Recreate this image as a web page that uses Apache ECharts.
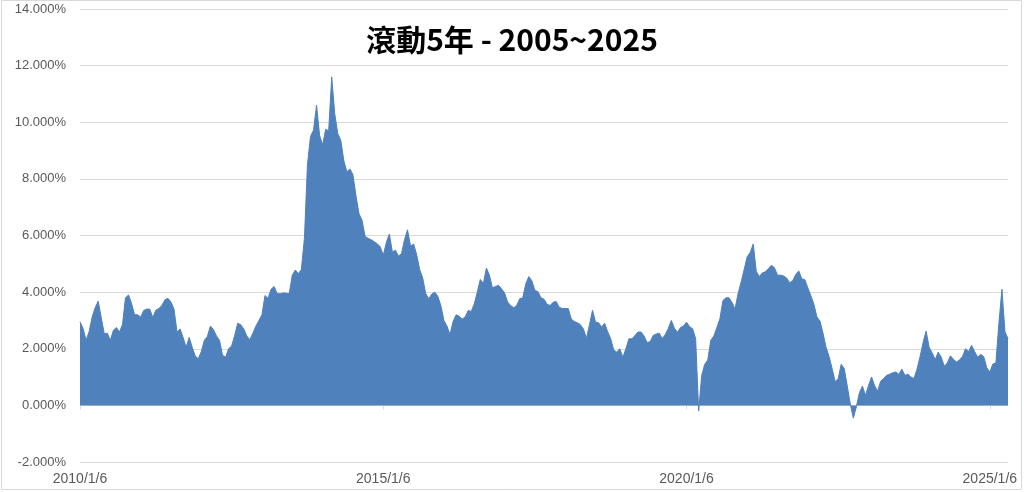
<!DOCTYPE html>
<html>
<head>
<meta charset="utf-8">
<script src="https://cdn.jsdelivr.net/npm/echarts@6/dist/echarts.min.js"></script>
<style>
html,body{margin:0;padding:0;background:#fff;}
#chart{width:1024px;height:492px;}
</style>
</head>
<body>
<div id="chart"></div>
<script>
// Chart title
const titleText = '滾動5年 - 2005~2025';
// x tick labels (one every 100 samples, samples are ~1/20 year apart)
const tickLabels = ['2010/1/6', '2015/1/6', '2020/1/6', '2025/1/6'];
const tickEvery = 100;
// Y axis range (%)
const yMin = -2, yMax = 14, yStep = 2;
// Rolling 5-year return (%), sampled from 2010/1/6 to mid-2025
const rolling5y = [
  2.95, 2.72, 2.3, 2.6, 3.12, 3.45, 3.68, 3.1, 2.53, 2.55,
  2.3, 2.65, 2.75, 2.59, 2.85, 3.8, 3.9, 3.6, 3.2, 3.2,
  3.12, 3.35, 3.4, 3.4, 3.1, 3.36, 3.42, 3.53, 3.73, 3.78,
  3.65, 3.4, 2.59, 2.7, 2.4, 2.05, 2.4, 2.05, 1.74, 1.65,
  1.9, 2.3, 2.43, 2.8, 2.68, 2.45, 2.3, 1.77, 1.7, 2.0,
  2.1, 2.47, 2.9, 2.85, 2.7,
  2.45, 2.32, 2.55, 2.8, 3.0, 3.2, 3.88, 3.78, 4.1, 4.2,
  3.95, 3.94, 3.97, 3.96, 3.95,
  4.6, 4.78, 4.65, 4.8, 5.9, 8.5, 9.5, 9.72, 10.6, 9.54,
  9.2, 9.75, 9.7, 11.6, 10.3, 9.6, 9.36, 8.64, 8.25, 8.35,
  8.15, 7.4, 6.77, 6.54, 5.97, 5.9, 5.85, 5.78, 5.71, 5.6,
  5.3, 5.75, 6.05, 5.42, 5.48, 5.28, 5.35, 5.85, 6.2, 5.62,
  5.7, 5.33, 4.8, 4.5, 3.95, 3.77,
  3.93, 4.0, 3.85, 3.52, 3.0, 2.8, 2.5, 2.95, 3.2, 3.15,
  3.05, 3.12, 3.35, 3.32, 3.58, 4.0, 4.45, 4.3, 4.85, 4.6,
  4.15, 4.2, 4.24, 4.12, 3.97, 3.65, 3.53, 3.45, 3.53, 3.77,
  3.8, 4.3, 4.55, 4.4, 4.06, 4.02, 3.8, 3.75, 3.57, 3.53,
  3.64, 3.67,
  3.47, 3.42, 3.42, 3.42, 3.05, 2.96, 2.92, 2.85, 2.7, 2.37,
  2.85, 3.36, 2.94, 2.92, 2.77, 2.9, 2.6, 2.35, 1.95, 1.88,
  2.0, 1.7, 2.0, 2.35, 2.35, 2.47, 2.59, 2.59, 2.45, 2.22,
  2.25, 2.47, 2.52, 2.55, 2.36, 2.5, 2.72, 3.0, 2.72, 2.58,
  2.75, 2.8, 2.94, 2.78, 2.71, 2.36, -0.2, 1.06, 1.45, 1.6,
  2.3, 2.45,
  2.75, 3.06, 3.7, 3.8, 3.8, 3.63, 3.4, 3.95, 4.35, 4.8,
  5.25, 5.4, 5.7, 4.73, 4.55, 4.68, 4.72, 4.83, 4.95, 4.86,
  4.6, 4.6, 4.57, 4.5, 4.33, 4.4, 4.62, 4.75, 4.47, 4.44,
  4.15, 3.87, 3.57, 3.12, 2.98, 2.55, 2.05, 1.73, 1.3, 0.84,
  0.94, 1.45, 1.3, 0.68,
  0.05, -0.45, -0.05, 0.45, 0.68, 0.35, 0.7, 1.0, 0.7, 0.5,
  0.85, 0.95, 1.06, 1.1, 1.15, 1.18, 1.1, 1.28, 1.06, 1.1,
  1.0, 0.95, 1.28, 1.72, 2.22, 2.62, 2.05, 1.85, 1.62, 1.88,
  1.7, 1.38, 1.5, 1.75, 1.63, 1.53, 1.6, 1.73, 2.0, 1.9,
  2.12, 1.9, 1.7, 1.8, 1.72, 1.33, 1.18, 1.46, 1.5, 2.9,
  4.1, 2.6, 2.35
];

const categories = rolling5y.map((_, i) => String(i));
const labelFor = (v, idx) => (idx % tickEvery === 0 ? (tickLabels[idx / tickEvery] || '') : '');

const chart = echarts.init(document.getElementById('chart'), null, {renderer: 'canvas'});
chart.setOption({
  animation: false,
  backgroundColor: '#ffffff',
  title: {
    text: titleText,
    left: 'center',
    top: 20,
    textStyle: {fontFamily: 'Noto Sans CJK TC', fontWeight: 'bold', fontSize: 30, color: '#000000'}
  },
  graphic: [{
    type: 'rect',
    shape: {x: 1.5, y: 0.5, width: 1020, height: 489},
    style: {fill: 'none', stroke: '#d9d9d9', lineWidth: 1},
    silent: true, z: 100
  }],
  grid: {left: 80, right: 16, top: 9, bottom: 30},
  xAxis: [{
    type: 'category',
    data: categories,
    boundaryGap: false,
    axisLine: {show: true, onZero: true, lineStyle: {color: '#d9d9d9', width: 1}},
    axisTick: {show: true, interval: tickEvery - 1, length: 4, lineStyle: {color: '#d9d9d9'}},
    axisLabel: {show: false},
    splitLine: {show: false}
  }, {
    type: 'category',
    data: categories,
    boundaryGap: false,
    position: 'bottom',
    axisLine: {show: false, onZero: false},
    axisTick: {show: false},
    axisLabel: {
      show: true, interval: tickEvery - 1, margin: 10,
      fontFamily: 'Liberation Sans', fontSize: 14, color: '#595959',
      formatter: labelFor
    },
    splitLine: {show: false}
  }],
  yAxis: {
    type: 'value',
    min: yMin, max: yMax, interval: yStep,
    axisLine: {show: false},
    axisTick: {show: false},
    axisLabel: {
      fontFamily: 'Liberation Sans', fontSize: 13, color: '#595959', margin: 14,
      formatter: v => v.toFixed(3) + '%'
    },
    splitLine: {show: true, lineStyle: {color: '#d9d9d9', width: 1}}
  },
  series: [{
    type: 'line',
    xAxisIndex: 0,
    data: rolling5y,
    showSymbol: false,
    symbol: 'none',
    lineStyle: {color: '#4f81bd', width: 1},
    itemStyle: {color: '#4f81bd'},
    areaStyle: {color: '#4f81bd', opacity: 1},
    z: 2
  }]
});
</script>
</body>
</html>
